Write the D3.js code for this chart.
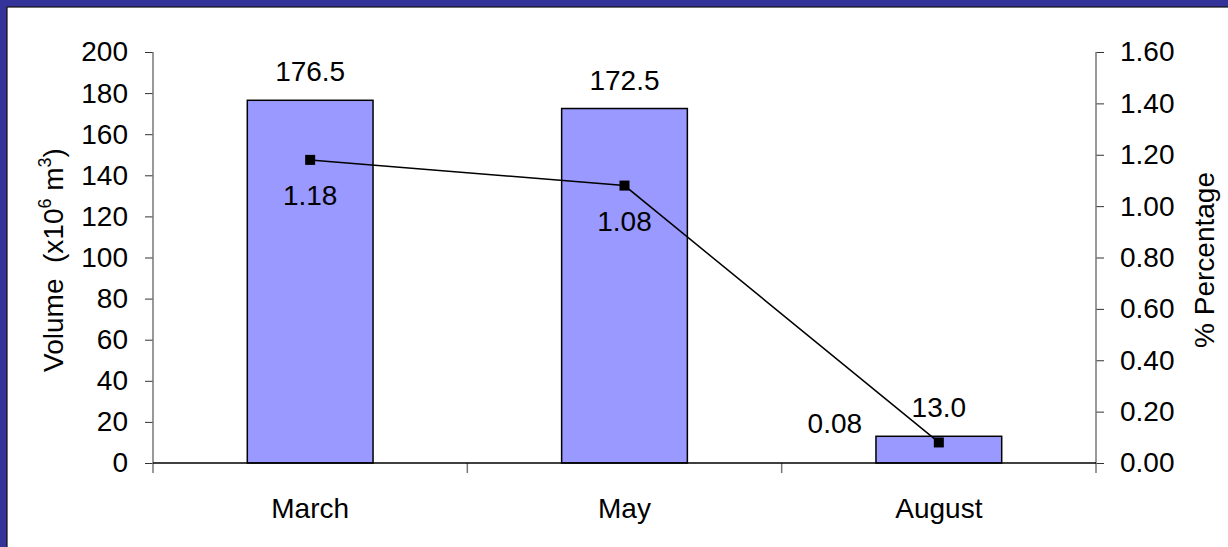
<!DOCTYPE html>
<html>
<head>
<meta charset="utf-8">
<script src="https://cdn.jsdelivr.net/npm/d3@7/dist/d3.min.js"></script>
<style>
  html, body { margin: 0; padding: 0; background: #fff; }
  svg { display: block; font-family: "Liberation Sans", Arial, sans-serif; }
</style>
</head>
<body>
<svg id="chart" width="1228" height="547"></svg>
<script>
const categories = ["March", "May", "August"];
const volumes = [176.5, 172.5, 13.0];
const percentages = [1.18, 1.08, 0.08];
const leftTicks = [0, 20, 40, 60, 80, 100, 120, 140, 160, 180, 200];
const rightTicks = [0, 0.2, 0.4, 0.6, 0.8, 1.0, 1.2, 1.4, 1.6];

const svg = d3.select("#chart");
const W = 1228, H = 547;
const m = { left: 153, right: 1096, top: 52, bottom: 463 };
const FS = 28;

// frame
svg.append("rect").attr("x", 0).attr("y", 0).attr("width", W).attr("height", H).attr("fill", "#333399");
svg.append("rect").attr("x", 7).attr("y", 7).attr("width", W + 10).attr("height", H + 10).attr("fill", "#ffffff")
  .attr("stroke", "#111").attr("stroke-width", 1.2);

const x = d3.scaleBand().domain(categories).range([m.left, m.right]).paddingInner(0.6).paddingOuter(0.3);
const xOuter = d3.scaleBand().domain(categories).range([m.left, m.right]);
const yL = d3.scaleLinear().domain([0, 200]).range([m.bottom, m.top]);
const yR = d3.scaleLinear().domain([0, 1.6]).range([m.bottom, m.top]);

// left axis
const gL = svg.append("g").attr("transform", `translate(${m.left},0)`)
  .call(d3.axisLeft(yL).tickValues(leftTicks).tickSize(8).tickPadding(17).tickFormat(d3.format("d")));
gL.select(".domain").remove();
gL.selectAll(".tick line").attr("stroke", "#333");
gL.selectAll(".tick text").attr("font-size", FS).attr("fill", "#000").attr("font-family", "Liberation Sans, Arial, sans-serif");
svg.append("line").attr("x1", m.left).attr("x2", m.left).attr("y1", m.top).attr("y2", m.bottom + 10)
  .attr("stroke", "#777").attr("stroke-width", 1.5);

// right axis
const gR = svg.append("g").attr("transform", `translate(${m.right},0)`)
  .call(d3.axisRight(yR).tickValues(rightTicks).tickSize(8).tickPadding(16).tickFormat(d3.format(".2f")));
gR.select(".domain").remove();
gR.selectAll(".tick line").attr("stroke", "#333");
gR.selectAll(".tick text").attr("font-size", FS).attr("fill", "#000").attr("font-family", "Liberation Sans, Arial, sans-serif");
svg.append("line").attr("x1", m.right).attr("x2", m.right).attr("y1", m.top).attr("y2", m.bottom + 10)
  .attr("stroke", "#777").attr("stroke-width", 1.5);

// category boundary ticks
categories.slice(1).forEach(c => {
  const bx = xOuter(c);
  svg.append("line").attr("x1", bx).attr("x2", bx).attr("y1", m.bottom).attr("y2", m.bottom + 10)
    .attr("stroke", "#777").attr("stroke-width", 1.5);
});

// bars
svg.selectAll("rect.bar").data(volumes).join("rect").attr("class", "bar")
  .attr("x", (d, i) => x(categories[i]))
  .attr("width", x.bandwidth())
  .attr("y", d => yL(d))
  .attr("height", d => yL(0) - yL(d))
  .attr("fill", "#9999ff").attr("stroke", "#000").attr("stroke-width", 1.5);

// baseline
svg.append("line").attr("x1", m.left).attr("x2", m.right).attr("y1", m.bottom).attr("y2", m.bottom)
  .attr("stroke", "#000").attr("stroke-width", 1.5);

// bar labels
svg.selectAll("text.vlab").data(volumes).join("text").attr("class", "vlab")
  .attr("x", (d, i) => x(categories[i]) + x.bandwidth() / 2)
  .attr("y", d => yL(d) - 19)
  .attr("text-anchor", "middle").attr("font-size", FS).attr("fill", "#000")
  .text(d => d.toFixed(1));

// category labels
svg.selectAll("text.cat").data(categories).join("text").attr("class", "cat")
  .attr("x", d => x(d) + x.bandwidth() / 2)
  .attr("y", 518)
  .attr("text-anchor", "middle").attr("font-size", FS).attr("fill", "#000")
  .text(d => d);

// line
const cx = (i) => x(categories[i]) + x.bandwidth() / 2;
const line = d3.line().x((d, i) => cx(i)).y(d => yR(d));
svg.append("path").datum(percentages).attr("d", line)
  .attr("fill", "none").attr("stroke", "#000").attr("stroke-width", 1.5);
svg.selectAll("rect.pt").data(percentages).join("rect").attr("class", "pt")
  .attr("x", (d, i) => cx(i) - 5).attr("y", d => yR(d) - 5)
  .attr("width", 10).attr("height", 10).attr("fill", "#000");

// line labels
svg.selectAll("text.plab").data(percentages).join("text").attr("class", "plab")
  .attr("x", (d, i) => i === percentages.length - 1 ? cx(i) - 104 : cx(i))
  .attr("y", (d, i) => i === percentages.length - 1 ? yR(d) - 9 : yR(d) + 45)
  .attr("text-anchor", "middle").attr("font-size", FS).attr("fill", "#000")
  .text(d => d.toFixed(2));

// axis titles
const t1 = svg.append("text").attr("transform", "translate(63,260) rotate(-90)")
  .attr("text-anchor", "middle").attr("font-size", FS).attr("fill", "#000");
t1.append("tspan").text("Volume\u00a0 (x10");
t1.append("tspan").attr("font-size", 18).attr("dy", -12).text("6");
t1.append("tspan").attr("dy", 12).text(" m");
t1.append("tspan").attr("font-size", 18).attr("dy", -12).text("3");
t1.append("tspan").attr("dy", 12).text(")");

svg.append("text").attr("transform", "translate(1214,260) rotate(-90)")
  .attr("text-anchor", "middle").attr("font-size", FS).attr("fill", "#000")
  .text("% Percentage");
</script>
</body>
</html>
